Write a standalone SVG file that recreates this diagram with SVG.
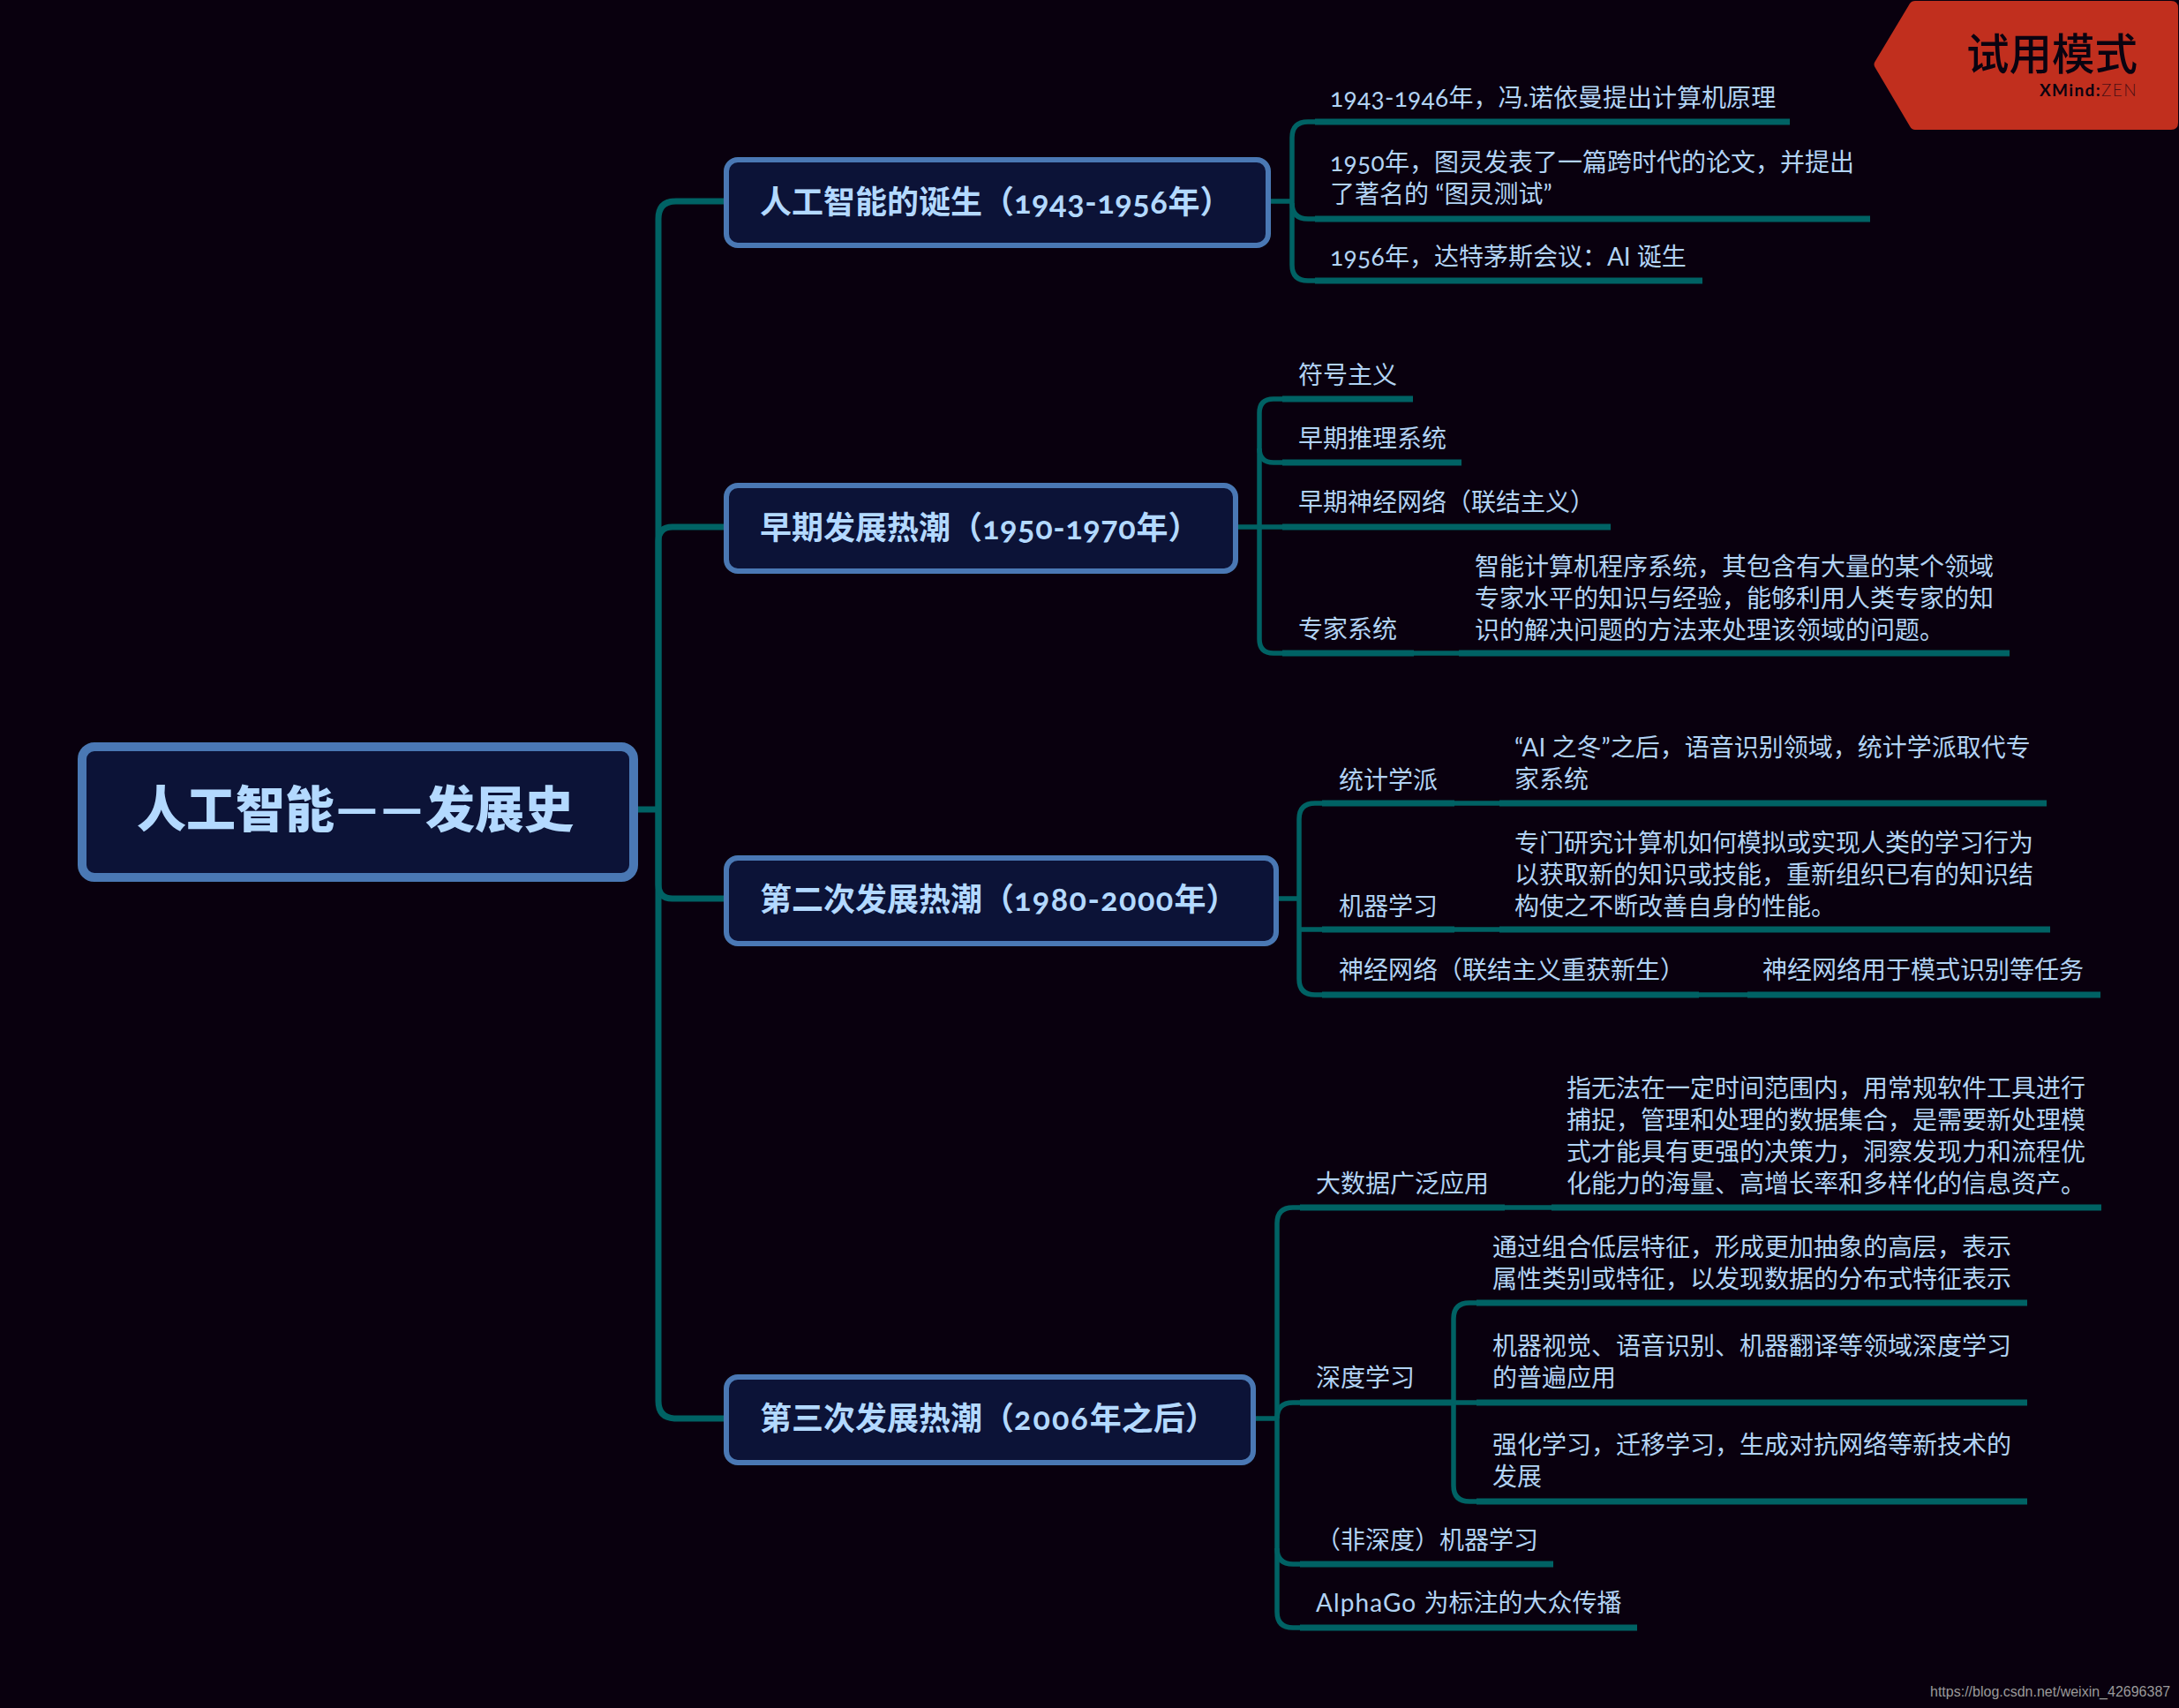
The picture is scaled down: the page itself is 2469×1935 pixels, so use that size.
<svg xmlns="http://www.w3.org/2000/svg" width="2469" height="1935" viewBox="0 0 2469 1935">
<style>
text{font-family:"Lato","Noto Sans CJK SC","Noto Sans",sans-serif;fill:#b3d9ff;font-variant-numeric:oldstyle-nums}
.leaf{font-size:28px;fill:#b2d3f4}
.n{letter-spacing:.35px}
.main{font-size:36px;font-weight:700}
.root{font-size:56px;font-weight:900;font-family:"Noto Sans CJK SC",sans-serif}
.dash{font-family:"Lato",sans-serif;font-size:61px;font-weight:900}
.box{fill:#0c1337;stroke:#4a78b4;stroke-width:6}
.c{fill:none;stroke:#006264;stroke-width:5.5}
.u{fill:none;stroke:#006264;stroke-width:7}
.k{fill:none;stroke:#006264;stroke-width:7}
</style>
<rect width="2469" height="1935" fill="#09000e"/>
<g id="connectors">
<path class="k" d="M723 917H746"/>
<path class="k" d="M820 228H766Q746 228 746 248V1587Q746 1607 766 1607H820"/>
<path class="k" d="M820 597H762Q746 597 746 613V1002Q746 1018 762 1018H820"/>
<path class="c" d="M1440 228H1464"/>
<path class="c" d="M1490 138H1482Q1464 138 1464 156V300Q1464 318 1482 318H1490"/>
<path class="c" d="M1490 248H1482Q1464 248 1464 230"/>
<path class="u" d="M1490 138H2028M1490 248H2119M1490 318H1929"/>
<path class="c" d="M1403 597H1453"/>
<path class="c" d="M1453 452H1443Q1427 452 1427 468V724Q1427 740 1443 740H1453"/>
<path class="c" d="M1453 524H1443Q1427 524 1427 508"/>
<path class="c" d="M1602 740H1653"/>
<path class="u" d="M1453 452H1601M1453 524H1656M1453 597H1825M1453 740H1602M1653 740H2277"/>
<path class="c" d="M1449 1018H1472"/>
<path class="c" d="M1498 910H1490Q1472 910 1472 928V1109Q1472 1127 1490 1127H1498"/>
<path class="c" d="M1498 1053H1472"/>
<path class="c" d="M1648 910H1699M1648 1053H1699M1925 1127H1980"/>
<path class="u" d="M1498 910H1648M1699 910H2319M1498 1053H1648M1699 1053H2323M1498 1127H1925M1980 1127H2380"/>
<path class="c" d="M1423 1607H1447"/>
<path class="c" d="M1473 1368H1465Q1447 1368 1447 1386V1826Q1447 1844 1465 1844H1473"/>
<path class="c" d="M1447 1607Q1447 1589 1465 1589H1473"/>
<path class="c" d="M1473 1772H1465Q1447 1772 1447 1754"/>
<path class="c" d="M1705 1368H1758"/>
<path class="u" d="M1473 1368H1705M1758 1368H2381M1473 1589H1645M1473 1772H1760M1473 1844H1855"/>
<path class="c" d="M1673 1476H1665Q1647 1476 1647 1494V1683Q1647 1701 1665 1701H1673"/>
<path class="c" d="M1645 1589H1673"/>
<path class="u" d="M1673 1476H2297M1673 1589H2297M1673 1701H2297"/>
</g>
<g id="root"><rect class="box" style="stroke-width:10" x="93" y="846" width="625" height="148" rx="14"/><text class="root" y="937"><tspan x="155">人工智能</tspan><tspan class="dash" x="380" y="938">—</tspan><tspan class="dash" x="431" y="938">—</tspan><tspan x="482" y="937">发展史</tspan></text></g>
<g id="n1"><rect class="box" x="823" y="181" width="614" height="97" rx="13"/><text class="main" x="861" y="242">人工智能的诞生（<tspan letter-spacing=".6">1943-1956</tspan>年）</text></g>
<g id="n2"><rect class="box" x="823" y="550" width="577" height="97" rx="13"/><text class="main" x="861" y="611">早期发展热潮（<tspan letter-spacing=".6">1950-1970</tspan>年）</text></g>
<g id="n3"><rect class="box" x="823" y="972" width="623" height="97" rx="13"/><text class="main" x="861" y="1032">第二次发展热潮（<tspan letter-spacing="1.4">1980-2000</tspan>年）</text></g>
<g id="n4"><rect class="box" x="823" y="1560" width="597" height="97" rx="13"/><text class="main" x="861" y="1620">第三次发展热潮（<tspan letter-spacing="2">2006</tspan>年之后）</text></g>
<g id="n1a"><text class="leaf" x="1507" y="121"><tspan class="n">1943-1946</tspan>年，冯.诺依曼提出计算机原理</text></g>
<g id="n1b"><text class="leaf" x="1507" y="194"><tspan class="n" letter-spacing=".7">1950</tspan>年，图灵发表了一篇跨时代的论文，并提出</text><text class="leaf" x="1507" y="230">了著名的 “图灵测试”</text></g>
<g id="n1c"><text class="leaf" x="1507" y="301"><tspan class="n">1956</tspan>年，达特茅斯会议：AI 诞生</text></g>
<g id="n2a"><text class="leaf" x="1471" y="435">符号主义</text></g>
<g id="n2b"><text class="leaf" x="1471" y="507">早期推理系统</text></g>
<g id="n2c"><text class="leaf" x="1471" y="579">早期神经网络（联结主义）</text></g>
<g id="n2d"><text class="leaf" x="1471" y="723">专家系统</text></g>
<g id="n2d1"><text class="leaf" x="1671" y="652">智能计算机程序系统，其包含有大量的某个领域</text><text class="leaf" x="1671" y="688">专家水平的知识与经验，能够利用人类专家的知</text><text class="leaf" x="1671" y="724">识的解决问题的方法来处理该领域的问题。</text></g>
<g id="n3a"><text class="leaf" x="1517" y="894">统计学派</text></g>
<g id="n3a1"><text class="leaf" x="1716" y="857">“AI 之冬”之后，语音识别领域，统计学派取代专</text><text class="leaf" x="1716" y="893">家系统</text></g>
<g id="n3b"><text class="leaf" x="1517" y="1037">机器学习</text></g>
<g id="n3b1"><text class="leaf" x="1716" y="965">专门研究计算机如何模拟或实现人类的学习行为</text><text class="leaf" x="1716" y="1001">以获取新的知识或技能，重新组织已有的知识结</text><text class="leaf" x="1716" y="1037">构使之不断改善自身的性能。</text></g>
<g id="n3c"><text class="leaf" x="1517" y="1109">神经网络（联结主义重获新生）</text></g>
<g id="n3c1"><text class="leaf" x="1997" y="1109">神经网络用于模式识别等任务</text></g>
<g id="n4a"><text class="leaf" x="1491" y="1351">大数据广泛应用</text></g>
<g id="n4a1"><text class="leaf" x="1775" y="1243">指无法在一定时间范围内，用常规软件工具进行</text><text class="leaf" x="1775" y="1279">捕捉，管理和处理的数据集合，是需要新处理模</text><text class="leaf" x="1775" y="1315">式才能具有更强的决策力，洞察发现力和流程优</text><text class="leaf" x="1775" y="1351">化能力的海量、高增长率和多样化的信息资产。</text></g>
<g id="n4b"><text class="leaf" x="1491" y="1571">深度学习</text></g>
<g id="n4b1"><text class="leaf" x="1691" y="1423">通过组合低层特征，形成更加抽象的高层，表示</text><text class="leaf" x="1691" y="1459">属性类别或特征，以发现数据的分布式特征表示</text></g>
<g id="n4b2"><text class="leaf" x="1691" y="1535">机器视觉、语音识别、机器翻译等领域深度学习</text><text class="leaf" x="1691" y="1571">的普遍应用</text></g>
<g id="n4b3"><text class="leaf" x="1691" y="1647">强化学习，迁移学习，生成对抗网络等新技术的</text><text class="leaf" x="1691" y="1683">发展</text></g>
<g id="n4c"><text class="leaf" x="1491" y="1755">（非深度）机器学习</text></g>
<g id="n4d"><text class="leaf" x="1491" y="1826"><tspan letter-spacing="1.1">AlphaGo </tspan>为标注的大众传播</text></g>
<g id="trial"><path d="M2170 1H2460Q2468 1 2468 9V139Q2468 147 2460 147H2170Q2166 147 2164 143L2125 77Q2122 73 2125 69L2164 4Q2166 1 2170 1Z" fill="#c12f1e"/>
<text x="2422" y="79" text-anchor="end" style="font-size:48.5px;fill:#0a0310;font-weight:500;font-family:'Noto Sans CJK SC',sans-serif">试用模式</text>
<text x="2422" y="109" text-anchor="end" style="font-size:19px;fill:#0a0310;font-weight:700;letter-spacing:1.4px">XMind:<tspan style="font-weight:300;fill:#4d0f14">ZEN</tspan></text></g>
<text x="2187" y="1922" style="font-family:'Liberation Sans',sans-serif;font-size:16px;fill:#9a9a9a">https://blog.csdn.net/weixin_42696387</text>
</svg>
